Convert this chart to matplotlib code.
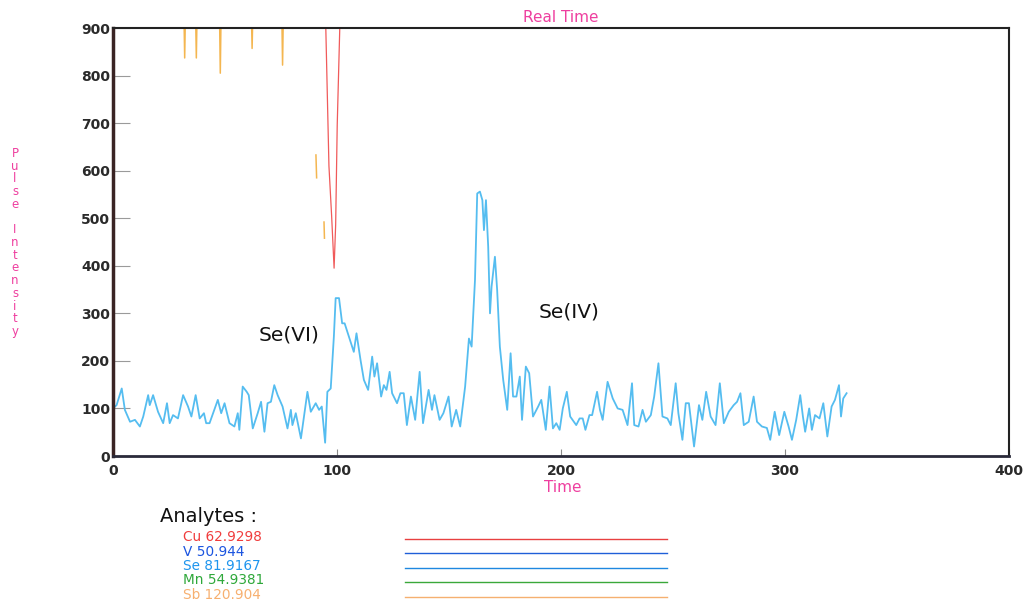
import matplotlib
matplotlib.use("Agg")
import matplotlib.pyplot as plt
from matplotlib.lines import Line2D
import numpy as np

# ---------------- data ----------------
se_time = [0, 1.6, 3.9, 5.3, 7.6, 9.8, 12.0, 13.5, 15.7, 16.4, 17.9, 20.1, 22.4, 24.1, 25.3, 26.8,
           29.0, 31.3, 33.5, 35.0, 36.9, 38.7, 40.6, 41.6, 43.1, 46.8, 48.3, 49.8, 52.0, 54.2, 55.7,
           56.4, 57.9, 59.7, 60.6, 62.4, 64.6, 66.1, 67.6, 69.0, 70.5, 72.0, 73.5, 75.7, 77.9, 79.4,
           80.1, 81.6, 83.9, 86.8, 88.3, 90.5, 92.0, 93.2, 94.7, 95.7, 97.2,
           98.6, 99.4, 100.9, 102.3, 103.4, 105.3, 107.5, 108.7, 110.5, 112.0, 113.9, 115.7, 116.7,
           117.9, 119.7, 120.9, 122.1, 123.5, 124.6, 126.8, 128.3, 129.8, 131.2, 133.0, 134.9, 136.9,
           138.4, 140.9, 142.4, 143.5, 145.8, 147.5, 149.8, 151.2, 153.2, 155.0, 157.2, 158.9, 160.1,
           161.6, 162.6, 163.8, 164.9, 165.6, 166.5, 167.5, 168.3, 169.0, 170.5, 171.5, 172.7, 174.2,
           176.0, 177.5, 178.6, 180.1, 181.6, 182.6, 184.3, 185.8, 187.5, 189.8, 191.2, 193.2, 194.9,
           196.4, 197.9, 199.4, 200.8, 202.6, 204.1, 206.8, 208.3, 209.7, 210.9, 212.7, 213.9, 216.1,
           217.4, 218.6, 220.8, 223.1, 225.3, 227.5, 229.7, 231.7, 232.7, 234.6, 236.4, 237.9, 240.1,
           241.6, 243.5, 245.3, 247.5, 249.0, 251.2, 252.4, 254.2, 255.7, 257.1, 259.4, 261.6, 263.1,
           264.8, 266.8, 269.0, 270.9, 272.7, 274.9, 277.1, 278.6, 280.1, 281.6, 283.8, 286.0, 287.5,
           289.7, 291.9, 293.4, 295.4, 297.4, 299.7, 301.6, 303.1, 305.0, 306.8, 308.0, 309.0, 310.8,
           312.0, 313.4, 315.4, 317.1, 318.9, 320.8, 322.3, 324.1, 325.0, 326.0, 327.5]
se_intensity = [100, 107, 142, 97, 72, 76, 62, 83, 128, 107, 128, 93, 69, 111, 69, 86,
                79, 128, 104, 83, 128, 79, 90, 69, 69, 118, 90, 111, 69, 62, 90,
                55, 146, 135, 128, 58, 90, 114, 51, 111, 114, 149, 128, 104, 58, 97,
                65, 90, 37, 135, 93, 111, 97, 104, 28, 135, 142,
                251, 332, 332, 279, 279, 251, 219, 258, 202, 160, 139, 209, 167,
                195, 125, 149, 139, 177, 132, 111, 132, 132, 65, 125, 76, 177,
                69, 139, 97, 128, 76, 90, 125, 62, 97, 62, 146, 247, 230,
                370, 552, 556, 538, 475, 538, 440, 300, 356, 419, 349, 230, 160,
                97, 216, 125, 125, 167, 76, 188, 174, 83, 104, 118, 55, 146,
                58, 69, 55, 100, 135, 83, 65, 79, 79, 55, 86, 86, 135,
                97, 76, 156, 121, 100, 97, 65, 153, 65, 62, 97, 72, 86,
                125, 195, 83, 79, 65, 153, 90, 34, 111, 111, 20, 107, 76,
                135, 83, 65, 153, 69, 93, 107, 114, 132, 65, 72, 125, 72,
                62, 59, 34, 93, 44, 93, 62, 34, 76, 128, 83, 51, 100,
                55, 86, 79, 111, 41, 104, 118, 149, 83, 121, 132]

cu_time = [94.6, 95.0, 96.4, 97.6, 98.7, 99.4, 100.1, 101.2, 101.6]
cu_intensity = [1000, 900, 610, 505, 395, 486, 696, 893, 1000]

sb_time = [31.6, 32.0, 32.4, 36.8, 37.2, 37.6, 47.5, 47.9, 48.3, 61.7, 62.1, 62.5,
           75.3, 75.7, 76.1, 90.4, 90.6, 90.9, 94.0, 94.2, 94.4]
sb_intensity = [950, 837, 950, 950, 837, 950, 950, 805, 950, 950, 857, 950,
                950, 822, 950, np.nan, 633, 585, np.nan, 492, 458]

analytes = ["Cu 62.9298", "V 50.944", "Se 81.9167", "Mn 54.9381", "Sb 120.904"]
analyte_text_colors = ["#f03c3c", "#1c55e0", "#1e95ee", "#2ea83a", "#f7b070"]
analyte_line_colors = ["#e84040", "#1f5fd8", "#1e88e0", "#3aa83a", "#f5b070"]

x_ticks = [0, 100, 200, 300, 400]
y_ticks = [0, 100, 200, 300, 400, 500, 600, 700, 800, 900]

peak_labels = ["Se(VI)", "Se(IV)"]
peak_label_pos = [(78.7, 254), (203.6, 303)]

# ---------------- figure ----------------
W, H = 1027, 603
fig = plt.figure(figsize=(W / 100, H / 100), dpi=100)
fig.patch.set_facecolor("white")
ax = fig.add_axes([113 / W, 1 - 456 / H, (1009 - 113) / W, (456 - 28) / H])

ax.plot(se_time, se_intensity, color="#55bdf0", lw=1.3)
ax.plot(cu_time, cu_intensity, color="#f05a5a", lw=0.9)
ax.plot(sb_time, sb_intensity, color="#f4b650", lw=1.1)

ax.set_xlim(0, 400)
ax.set_ylim(0, 900)
ax.set_xticks(x_ticks)
ax.set_yticks(y_ticks)
ax.set_xticklabels([str(v) for v in x_ticks])
ax.set_yticklabels([str(v) for v in y_ticks])

ax.tick_params(axis="y", direction="in", length=12, width=0.8, color="#9a9a9a",
               pad=2, labelsize=10, labelcolor="#2a2a2a")
ax.tick_params(axis="x", direction="in", length=5, width=0.8, color="#8a8a8a",
               pad=6, labelsize=10, labelcolor="#2a2a2a")
for lab in ax.get_xticklabels() + ax.get_yticklabels():
    lab.set_fontweight("bold")

ax.spines["left"].set_linewidth(2.5)
ax.spines["left"].set_color("#3a2424")
ax.spines["bottom"].set_linewidth(2.0)
ax.spines["bottom"].set_color("#2a2a3a")
ax.spines["top"].set_linewidth(1.5)
ax.spines["top"].set_color("#222222")
ax.spines["right"].set_linewidth(1.5)
ax.spines["right"].set_color("#222222")

for lbl, (px, py) in zip(peak_labels, peak_label_pos):
    ax.text(px, py, lbl, fontsize=14.5, ha="center", va="center", color="#111111")

magenta = "#ee3f9f"
fig.text(561 / W, 1 - 17.5 / H, "Real Time", fontsize=11, color=magenta,
         ha="center", va="center")
fig.text(563 / W, 1 - 487 / H, "Time", fontsize=11, color=magenta,
         ha="center", va="center")
fig.text(15 / W, 1 - 242.5 / H, "\n".join("Pulse Intensity"), fontsize=8.5,
         color=magenta, ha="center", va="center", linespacing=0.97)

# analytes legend
fig.text(160 / W, 1 - 516 / H, "Analytes :", fontsize=14, color="#111111",
         ha="left", va="center")
row0, dy = 537.0, 14.5
for i, (name, tc, lc) in enumerate(zip(analytes, analyte_text_colors, analyte_line_colors)):
    yy = row0 + i * dy
    fig.text(183 / W, 1 - yy / H, name, fontsize=9.8, color=tc, ha="left", va="center")
    fig.add_artist(Line2D([405 / W, 667 / W], [1 - (yy + 1.5) / H, 1 - (yy + 1.5) / H],
                          color=lc, lw=1.0, transform=fig.transFigure))

fig.savefig("out.png", dpi=100, facecolor="white")
